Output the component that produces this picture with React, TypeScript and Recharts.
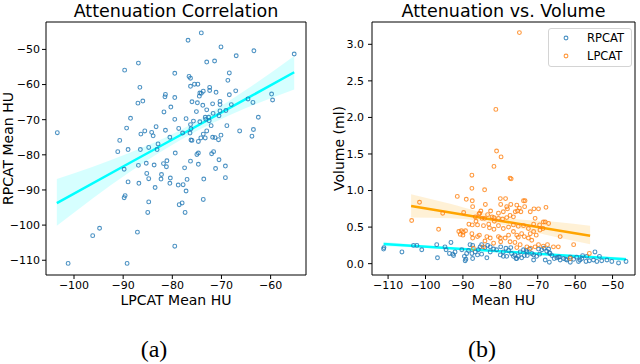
import React from 'react';
import { ComposedChart, Scatter, Line, Area, XAxis, YAxis, Legend } from 'recharts';

// (a) LPCAT mean HU (x) vs RPCAT mean HU (y)
const corrPoints: [number, number][] = [
  [-89.7, -55.9], [-86.9, -53.9], [-79.5, -56.8], [-86.6, -60.8], [-81.4, -62.8], [-81.5, -63.5],
  [-86.0, -64.7], [-87.0, -65.3], [-80.3, -66.4], [-79.5, -63.7], [-81.7, -67.8], [-88.5, -69.6],
  [-89.3, -72.4], [-83.3, -72.0], [-85.6, -73.2], [-84.2, -73.6], [-83.9, -74.6], [-86.4, -74.1],
  [-81.4, -73.0], [-103.4, -73.7], [-90.7, -75.9], [-80.5, -75.0], [-82.9, -76.9], [-84.8, -77.9],
  [-89.0, -78.5], [-86.5, -78.5], [-91.1, -79.1], [-83.1, -78.5], [-79.5, -69.9],
  [-74.1, -45.3], [-76.8, -47.4], [-70.1, -49.3], [-63.4, -50.4], [-55.2, -51.3], [-67.0, -51.8],
  [-73.0, -53.6], [-71.4, -53.3], [-68.4, -56.7], [-76.6, -57.7], [-76.3, -58.2], [-68.7, -58.8],
  [-75.5, -59.9], [-74.8, -59.9], [-76.3, -60.5], [-72.4, -60.8], [-72.4, -61.7], [-71.1, -62.2],
  [-73.7, -61.9], [-74.4, -62.4], [-74.1, -62.5], [-74.5, -63.3], [-67.1, -61.8], [-68.4, -62.9],
  [-64.6, -64.1], [-59.8, -62.7], [-59.6, -64.4], [-63.6, -65.1], [-76.0, -64.9], [-74.9, -65.2],
  [-73.8, -65.9], [-71.8, -65.5], [-70.3, -64.8], [-70.3, -65.7], [-68.0, -65.7], [-73.0, -67.2],
  [-75.1, -67.7], [-70.3, -67.5], [-69.1, -67.4], [-71.7, -68.2], [-70.5, -68.9], [-62.5, -69.3],
  [-77.2, -69.7], [-73.3, -69.3], [-72.6, -69.3], [-73.2, -69.9], [-72.5, -70.3], [-74.4, -70.6],
  [-75.7, -70.4], [-76.3, -71.4], [-72.1, -71.7], [-68.9, -71.7], [-76.2, -72.6], [-78.7, -72.5],
  [-73.0, -73.2], [-66.3, -73.2], [-63.5, -72.8], [-77.9, -73.8], [-76.4, -73.8], [-73.7, -74.1],
  [-70.1, -74.4], [-63.8, -74.7], [-74.2, -75.2], [-73.3, -75.2], [-71.8, -75.0], [-71.3, -75.1],
  [-70.6, -75.7], [-76.2, -75.8], [-76.0, -75.9], [-74.7, -76.2],
  [-79.4, -79.5], [-86.9, -83.0], [-85.3, -82.4], [-83.7, -82.9], [-81.8, -82.5], [-81.1, -81.7],
  [-81.2, -83.4], [-89.8, -84.1], [-85.2, -85.3], [-82.2, -85.6], [-84.8, -86.8], [-82.3, -86.9],
  [-80.4, -86.6], [-89.0, -87.7], [-86.8, -88.1], [-80.5, -88.1], [-83.5, -89.3], [-89.6, -91.6],
  [-89.8, -92.2], [-84.8, -93.4], [-85.0, -96.4], [-94.8, -100.9], [-96.2, -103.0], [-87.1, -102.0],
  [-79.5, -106.0], [-101.2, -110.9], [-89.2, -110.9],
  [-75.0, -79.9], [-74.7, -79.5], [-72.0, -79.7], [-71.6, -79.1], [-76.3, -81.8], [-74.7, -82.7],
  [-70.5, -81.4], [-69.2, -83.2], [-71.2, -83.9], [-77.5, -83.7], [-77.0, -87.0], [-73.6, -86.9],
  [-69.2, -86.5], [-78.8, -88.6], [-77.8, -88.5], [-77.2, -90.3], [-73.7, -92.7], [-78.0, -93.7],
  [-78.6, -94.2], [-77.4, -96.4],
];

// fitted line and confidence band
const corrFitX = [-103.5, -88.8, -78.5, -65.0, -55.2];
const corrFitY = [-93.75, -82.4, -74.5, -64.1, -56.5];
const corrFitLo = [-100.2, -85.0, -75.9, -66.7, -61.4];
const corrFitHi = [-86.9, -79.5, -73.1, -61.5, -51.9];

const corrXTicks = [-100, -90, -80, -70, -60];
const corrYTicks = [-110, -100, -90, -80, -70, -60, -50];

// (b) mean HU (x) vs volume in ml (y)
const volRPCAT: [number, number][] = [
  [-111.1, 0.22], [-111.2, 0.2], [-106.3, 0.16], [-103.2, 0.25], [-102.3, 0.25], [-101.0, 0.19],
  [-96.8, 0.08], [-97.0, 0.26], [-94.8, 0.23], [-93.2, 0.29], [-93.6, 0.14], [-92.7, 0.13],
  [-92.1, 0.16], [-92.5, 0.11], [-90.3, 0.19], [-89.6, 0.1], [-89.0, 0.14], [-88.5, 0.18],
  [-89.4, 0.04], [-88.1, 0.26], [-87.4, 0.25], [-87.6, 0.14], [-86.7, 0.16], [-85.9, 0.19],
  [-85.4, 0.23], [-85.0, 0.26], [-84.1, 0.22], [-87.4, 0.07], [-86.1, 0.12], [-85.0, 0.13],
  [-83.6, 0.08], [-82.7, 0.16], [-81.8, 0.2], [-81.0, 0.19], [-79.9, 0.23], [-83.4, 0.25],
  [-82.7, 0.23], [-79.2, 0.16], [-78.5, 0.21], [-77.8, 0.18], [-77.2, 0.22], [-80.0, 0.12],
  [-79.2, 0.1], [-78.3, 0.1], [-77.0, 0.14], [-76.1, 0.12], [-75.6, 0.07], [-75.2, 0.1],
  [-74.3, 0.08], [-73.6, 0.11], [-74.7, 0.16], [-73.8, 0.19], [-72.9, 0.16], [-72.2, 0.2],
  [-71.6, 0.14], [-71.1, 0.12], [-70.3, 0.1], [-69.5, 0.13], [-68.9, 0.19], [-68.3, 0.21],
  [-67.6, 0.17], [-66.9, 0.15], [-66.2, 0.11], [-65.6, 0.07], [-64.9, 0.08], [-64.2, 0.09],
  [-63.1, 0.07], [-62.2, 0.05], [-61.3, 0.09], [-60.4, 0.06], [-59.6, 0.09], [-58.7, 0.05],
  [-58.0, 0.11], [-57.1, 0.03], [-56.2, 0.04], [-55.1, 0.05], [-54.2, 0.03], [-53.5, 0.1],
  [-54.7, 0.16], [-68.0, 0.05], [-66.9, 0.02], [-61.3, 0.02], [-59.1, 0.03], [-71.1, 0.05],
  [-52.9, 0.04], [-51.5, 0.05], [-50.2, 0.03], [-48.4, 0.01], [-46.4, 0.03], [-94.5, 0.19],
  [-89.2, 0.06], [-76.5, 0.1], [-75.8, 0.07], [-73.1, 0.18], [-72.8, 0.11], [-69.8, 0.2],
  [-67.1, 0.2], [-66.7, 0.14], [-64.5, 0.09], [-64.0, 0.05], [-62.5, 0.06], [-58.2, 0.07],
  [-56.9, 0.1],
];

const volLPCAT: [number, number][] = [
  [-74.9, 3.16], [-81.2, 2.11], [-81.0, 1.54], [-79.8, 1.46], [-81.7, 1.33], [-87.6, 1.21],
  [-77.4, 1.17], [-77.1, 1.16],
  [-87.6, 1.03], [-84.2, 1.01], [-91.5, 0.92], [-89.1, 0.88], [-87.5, 0.86], [-87.4, 0.78],
  [-84.0, 0.81], [-80.0, 0.89], [-78.6, 0.89], [-79.9, 0.81], [-78.1, 0.75], [-82.6, 0.72],
  [-85.2, 0.72], [-85.5, 0.69], [-83.4, 0.67], [-81.7, 0.63], [-84.9, 0.62], [-86.5, 0.58],
  [-87.5, 0.53], [-86.1, 0.53], [-84.5, 0.52], [-83.1, 0.54], [-81.6, 0.58], [-80.5, 0.62],
  [-79.4, 0.61], [-78.3, 0.63], [-77.4, 0.66], [-76.5, 0.64], [-76.0, 0.71], [-75.4, 0.72],
  [-74.9, 0.76], [-74.5, 0.71], [-73.8, 0.86], [-73.4, 0.86], [-73.5, 0.78], [-72.0, 0.71],
  [-71.0, 0.75], [-69.8, 0.75], [-67.8, 0.77], [-75.6, 0.8], [-77.2, 0.81], [-78.3, 0.78],
  [-79.2, 0.71], [-80.5, 0.69], [-84.2, 0.62],
  [-70.7, 0.62], [-68.5, 0.57], [-67.1, 0.55], [-69.5, 0.53], [-71.1, 0.54], [-72.5, 0.48],
  [-73.8, 0.52], [-75.2, 0.51], [-76.5, 0.53], [-77.8, 0.5], [-79.2, 0.48], [-80.5, 0.52],
  [-81.7, 0.47], [-82.9, 0.49], [-64.0, 0.37], [-60.4, 0.26], [-56.2, 0.14], [-96.5, 0.47],
  [-101.6, 0.84], [-103.7, 0.59], [-95.4, 0.69],
  [-91.1, 0.44], [-90.4, 0.45], [-89.9, 0.43], [-90.7, 0.4], [-90.0, 0.39], [-89.3, 0.45],
  [-87.6, 0.41], [-87.4, 0.35], [-86.1, 0.37], [-85.6, 0.39], [-83.6, 0.37], [-82.7, 0.35],
  [-80.5, 0.37], [-80.0, 0.35], [-76.5, 0.44], [-75.6, 0.39], [-75.2, 0.36], [-74.3, 0.41],
  [-73.6, 0.37], [-72.0, 0.41], [-71.1, 0.44], [-70.4, 0.39], [-72.5, 0.35], [-71.6, 0.32],
  [-77.8, 0.39], [-78.7, 0.35], [-77.4, 0.3], [-76.1, 0.29], [-74.7, 0.26], [-72.9, 0.23],
  [-71.9, 0.21], [-70.7, 0.23], [-69.8, 0.26], [-68.5, 0.24], [-67.4, 0.26], [-64.5, 0.23],
  [-61.3, 0.07], [-84.1, 0.31], [-81.8, 0.28], [-79.9, 0.3], [-84.5, 0.23], [-87.2, 0.21],
  [-75.6, 0.22], [-68.0, 0.57], [-69.4, 0.46], [-68.6, 0.48], [-65.8, 0.23], [-88.4, 0.54],
  [-85.7, 0.68], [-82.2, 0.64], [-86.7, 0.64], [-89.8, 0.7],
];

// fits for (b); LPCAT fit only spans its own data range
const volFitX = [-111.2, -103.85, -93.4, -79.0, -64.9, -56.0, -46.4];
const rpFitY = [0.269, 0.245, 0.212, 0.165, 0.12, 0.091, 0.06];
const rpFitLo = [0.239, 0.223, 0.198, 0.155, 0.108, 0.075, 0.035];
const rpFitHi = [0.299, 0.267, 0.226, 0.175, 0.132, 0.107, 0.085];
const lpFitY = [null, 0.788, 0.7, 0.578, 0.458, 0.383, null];
const lpFitLo = [null, 0.63, 0.62, 0.53, 0.36, 0.265, null];
const lpFitHi = [null, 0.95, 0.82, 0.63, 0.57, 0.52, null];

const volXTicks = [-110, -100, -90, -80, -70, -60, -50];
const volYTicks = [0, 0.5, 1, 1.5, 2, 2.5, 3];

const BLUE = '#1f77b4';
const ORANGE = '#ff7f0e';
const FONT = 'DejaVu Sans';

const corrScatter = corrPoints.map(([x, y]) => ({ x, y }));
const corrFit = corrFitX.map((x, i) => ({ x, fit: corrFitY[i], band: [corrFitLo[i], corrFitHi[i]] }));
const rpScatter = volRPCAT.map(([x, y]) => ({ x, y }));
const lpScatter = volLPCAT.map(([x, y]) => ({ x, y }));
const volFit = volFitX.map((x, i) => ({
  x,
  rp: rpFitY[i],
  rpBand: [rpFitLo[i], rpFitHi[i]],
  lp: lpFitY[i] ?? undefined,
  lpBand: lpFitLo[i] == null ? undefined : [lpFitLo[i], lpFitHi[i]],
}));

const minus = (v: number) => String(v).replace('-', '\u2212');

const ring = (color: string) => (p: any) =>
  <circle cx={p.cx} cy={p.cy} r={1.9} fill="none" stroke={color} strokeOpacity={0.8} strokeWidth={1.1} />;

const xLabel = (text: string) => (p: any) => {
  const vb = p.viewBox;
  return (
    <text x={vb.x + vb.width / 2} y={vb.y + 30} textAnchor="middle" fontSize={14} fontFamily={FONT} fill="#000">
      {text}
    </text>
  );
};

const yLabel = (text: string, dx: number) => (p: any) => {
  const vb = p.viewBox;
  const x = vb.x + dx;
  const y = vb.y + vb.height / 2;
  return (
    <text x={x} y={y} transform={`rotate(-90 ${x} ${y})`} textAnchor="middle" fontSize={14} fontFamily={FONT} fill="#000">
      {text}
    </text>
  );
};

const tickStyle = { fill: '#000', fontSize: 11, fontFamily: FONT };
const axisStroke = { stroke: '#000' };

const legendItems = [
  { name: 'RPCAT', color: BLUE },
  { name: 'LPCAT', color: ORANGE },
];

const VolumeLegend = () => (
  <div
    style={{
      width: 84, height: 39, boxSizing: 'border-box', border: '1px solid #d4d4d4', borderRadius: 3,
      background: 'rgba(255,255,255,0.8)', fontSize: 11.5, fontFamily: FONT, color: '#000',
    }}
  >
    {legendItems.map((it) => (
      <div key={it.name} style={{ display: 'flex', alignItems: 'center', height: 18 }}>
        <svg width={38} height={18}>
          <circle cx={17} cy={9} r={1.9} fill="none" stroke={it.color} strokeOpacity={0.8} strokeWidth={1.1} />
        </svg>
        <span>{it.name}</span>
      </div>
    ))}
  </div>
);

const titleStyle: React.CSSProperties = {
  position: 'absolute', top: 1, fontSize: 17.5, lineHeight: '20px', textAlign: 'center', color: '#000',
};
const captionStyle: React.CSSProperties = {
  position: 'absolute', top: 337, width: 60, fontSize: 24, lineHeight: '24px', textAlign: 'center',
  fontFamily: 'Liberation Serif', color: '#000',
};

const CorrDomainX: [number, number] = [-105.7, -52.8];
const CorrDomainY: [number, number] = [-114.2, -42.2];
const VolDomainX: [number, number] = [-114.3, -44.0];
const VolDomainY: [number, number] = [-0.155, 3.305];

export default function App() {
  return (
    <div style={{ position: 'absolute', left: 0, top: 0, width: 640, height: 364, background: '#fff', fontFamily: FONT }}>
      <div style={{ ...titleStyle, left: 46, width: 260 }}>Attenuation Correlation</div>
      <div style={{ ...titleStyle, left: 372, width: 263 }}>Attenuation vs. Volume</div>

      <div style={{ position: 'absolute', left: 0, top: 0 }}>
        <ComposedChart width={320} height={310} data={corrFit} margin={{ top: 22, right: 14, bottom: 0, left: 0 }}>
          <XAxis type="number" dataKey="x" domain={CorrDomainX} ticks={corrXTicks} tickFormatter={minus}
            height={35} tickSize={4} tickMargin={2} tick={tickStyle} axisLine={axisStroke} tickLine={axisStroke}
            allowDataOverflow label={{ content: xLabel('LPCAT Mean HU') }} />
          <YAxis type="number" dataKey="y" domain={CorrDomainY} ticks={corrYTicks} tickFormatter={minus}
            width={46} tickSize={4} tickMargin={2} tick={tickStyle} axisLine={axisStroke} tickLine={axisStroke}
            allowDataOverflow label={{ content: yLabel('RPCAT Mean HU', 13) }} />
          <XAxis xAxisId="top" orientation="top" type="number" domain={CorrDomainX} mirror tick={false}
            tickLine={false} axisLine={axisStroke} />
          <YAxis yAxisId="right" orientation="right" type="number" domain={CorrDomainY} mirror tick={false}
            tickLine={false} axisLine={axisStroke} />
          <Scatter data={corrScatter} dataKey="y" shape={ring(BLUE)} isAnimationActive={false} />
          <Area type="monotone" dataKey="band" stroke="none" fill="#00ffff" fillOpacity={0.16} isAnimationActive={false} />
          <Line type="linear" dataKey="fit" stroke="#00ffff" strokeWidth={2.5} dot={false} isAnimationActive={false} />
        </ComposedChart>
      </div>

      <div style={{ position: 'absolute', left: 320, top: 0 }}>
        <ComposedChart width={320} height={310} data={volFit} margin={{ top: 22, right: 5, bottom: 0, left: 0 }}>
          <XAxis type="number" dataKey="x" domain={VolDomainX} ticks={volXTicks} tickFormatter={minus}
            height={35} tickSize={4} tickMargin={2} tick={tickStyle} axisLine={axisStroke} tickLine={axisStroke}
            allowDataOverflow label={{ content: xLabel('Mean HU') }} />
          <YAxis type="number" dataKey="y" domain={VolDomainY} ticks={volYTicks} tickFormatter={(v: number) => v.toFixed(1)}
            width={52} tickSize={4} tickMargin={4} tick={tickStyle} axisLine={axisStroke} tickLine={axisStroke}
            allowDataOverflow label={{ content: yLabel('Volume (ml)', 24) }} />
          <XAxis xAxisId="top" orientation="top" type="number" domain={VolDomainX} mirror tick={false}
            tickLine={false} axisLine={axisStroke} />
          <YAxis yAxisId="right" orientation="right" type="number" domain={VolDomainY} mirror tick={false}
            tickLine={false} axisLine={axisStroke} />
          <Legend layout="vertical" align="center" verticalAlign="middle" content={VolumeLegend}
            wrapperStyle={{ left: 228, top: 28, width: 84, height: 39 }} />
          <Scatter name="RPCAT" data={rpScatter} dataKey="y" shape={ring(BLUE)} isAnimationActive={false} />
          <Area type="monotone" dataKey="rpBand" stroke="none" fill="#00ffff" fillOpacity={0.16} isAnimationActive={false} />
          <Line type="linear" dataKey="rp" stroke="#00ffff" strokeWidth={2.5} dot={false} isAnimationActive={false} />
          <Scatter name="LPCAT" data={lpScatter} dataKey="y" shape={ring(ORANGE)} isAnimationActive={false} />
          <Area type="monotone" dataKey="lpBand" stroke="none" fill="#ffa500" fillOpacity={0.16} isAnimationActive={false} />
          <Line type="linear" dataKey="lp" stroke="#ffa500" strokeWidth={2.5} dot={false} isAnimationActive={false} />
        </ComposedChart>
      </div>

      <div style={{ ...captionStyle, left: 124 }}>(a)</div>
      <div style={{ ...captionStyle, left: 452 }}>(b)</div>
    </div>
  );
}
